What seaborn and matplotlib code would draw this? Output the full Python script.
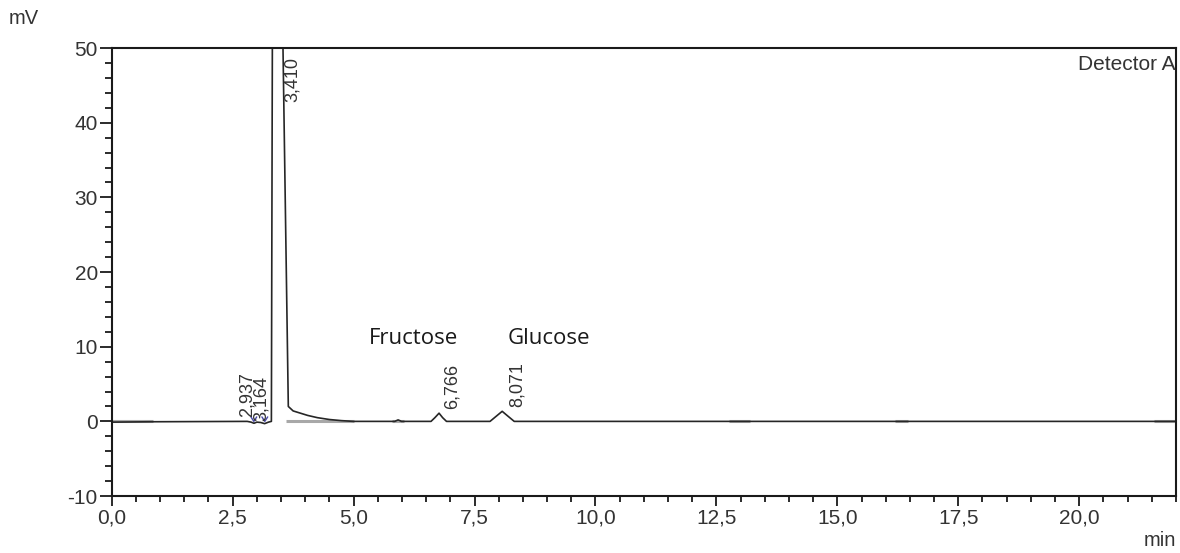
import matplotlib
matplotlib.use("Agg")
import matplotlib.pyplot as plt
import seaborn as sns
import pandas as pd
from matplotlib.ticker import MultipleLocator, FuncFormatter

# ---- data ----
time_min = [0.0, 0.8, 2.80, 2.88, 2.94, 3.00, 3.08, 3.16, 3.24, 3.30, 3.32, 3.41, 3.54,
            3.65, 3.75, 3.90, 4.05, 4.25, 4.50, 4.75, 5.00, 5.85, 5.92, 5.99,
            6.60, 6.68, 6.766, 6.84, 6.92, 7.82, 7.95, 8.071, 8.19, 8.32, 22.0]
signal_mv = [-0.1, -0.05, 0.0, -0.1, -0.25, -0.1, -0.15, -0.3, -0.1, 0.0, 50.0, 62.0, 50.0,
             2.0, 1.4, 1.1, 0.8, 0.5, 0.25, 0.1, 0.0, 0.0, 0.2, 0.0,
             0.0, 0.5, 1.1, 0.5, 0.0, 0.0, 0.7, 1.35, 0.7, 0.0, 0.0]

baseline_start = [0.0, 3.60, 5.80, 12.75, 16.20, 21.55]
baseline_end = [0.85, 5.00, 6.05, 13.20, 16.45, 22.0]

peak_rt = [2.937, 3.164, 3.410, 6.766, 8.071]
peak_labels = ["2,937", "3,164", "3,410", "6,766", "8,071"]
label_x = [2.79, 3.10, 3.73, 7.04, 8.38]
label_y = [0.6, 0.1, 48.8, 1.7, 1.9]
label_va = ["bottom", "bottom", "top", "bottom", "bottom"]

compound_names = ["Fructose", "Glucose"]
compound_x = [6.23, 9.03]
compound_y = [11.1, 11.1]

x_range = [0.0, 22.0]
y_range = [-10.0, 50.0]

# ---- figure ----
sns.set_theme(style="white")
plt.rcParams["font.family"] = ["Liberation Sans", "DejaVu Sans"]
plt.rcParams["axes.edgecolor"] = "#1a1a1a"

fig = plt.figure(figsize=(11.8, 5.53), dpi=100)
ax = fig.add_axes([0.0947, 0.103, 0.9019, 0.810])

df = pd.DataFrame({"time": time_min, "mV": signal_mv})

# gray baseline overlay segments
for s, e in zip(baseline_start, baseline_end):
    ax.plot([s, e], [0, 0], color="#a8a8a8", lw=2.2, solid_capstyle="butt", zorder=1)

sns.lineplot(data=df, x="time", y="mV", ax=ax, sort=False, estimator=None,
             color="#262626", lw=1.2, zorder=2)

# blue peak markers for tiny peaks
for rt in peak_rt[:2]:
    ax.plot([rt - 0.06, rt, rt + 0.06], [0.6, 0.0, 0.6], color="#4a4aa8", lw=1.0, zorder=3)

for x, y, t, va in zip(label_x, label_y, peak_labels, label_va):
    ax.text(x, y, t, rotation=90, ha="center", va=va, fontsize=13, color="#333333")

for x, y, t in zip(compound_x, compound_y, compound_names):
    ax.text(x, y, t, ha="center", va="center", fontsize=16, color="#1a1a1a",
            family=["Open Sans", "DejaVu Sans"])

ax.set_xlim(*x_range)
ax.set_ylim(*y_range)
ax.set_xlabel("")
ax.set_ylabel("")

ax.xaxis.set_major_locator(MultipleLocator(2.5))
ax.xaxis.set_minor_locator(MultipleLocator(0.5))
ax.yaxis.set_major_locator(MultipleLocator(10))
ax.yaxis.set_minor_locator(MultipleLocator(2))
ax.xaxis.set_major_formatter(FuncFormatter(lambda v, p: f"{v:.1f}".replace(".", ",")))
ax.yaxis.set_major_formatter(FuncFormatter(lambda v, p: f"{v:.0f}"))

ax.tick_params(axis="x", which="major", direction="out", length=7.5, width=1.3,
               colors="#1a1a1a", labelsize=15, labelcolor="#333333", pad=1.5, bottom=True)
ax.tick_params(axis="x", which="minor", direction="out", length=4, width=1.3,
               colors="#1a1a1a", bottom=True)
ax.tick_params(axis="y", which="major", direction="out", length=9, width=1.3,
               colors="#1a1a1a", labelsize=15, labelcolor="#333333", pad=1, left=True)
ax.tick_params(axis="y", which="minor", direction="out", length=5, width=1.3,
               colors="#1a1a1a", left=True)

for sp in ax.spines.values():
    sp.set_visible(True)
    sp.set_linewidth(1.5)
    sp.set_color("#1a1a1a")

ax.text(1.0, 0.985, "Detector A", transform=ax.transAxes, ha="right", va="top",
        fontsize=15, color="#333333", clip_on=True)

fig.text(0.007, 0.967, "mV", ha="left", va="center", fontsize=14.5, color="#333333")
fig.text(0.9966, 0.022, "min", ha="right", va="center", fontsize=14.5, color="#333333")

fig.savefig("out.png", dpi=100)
